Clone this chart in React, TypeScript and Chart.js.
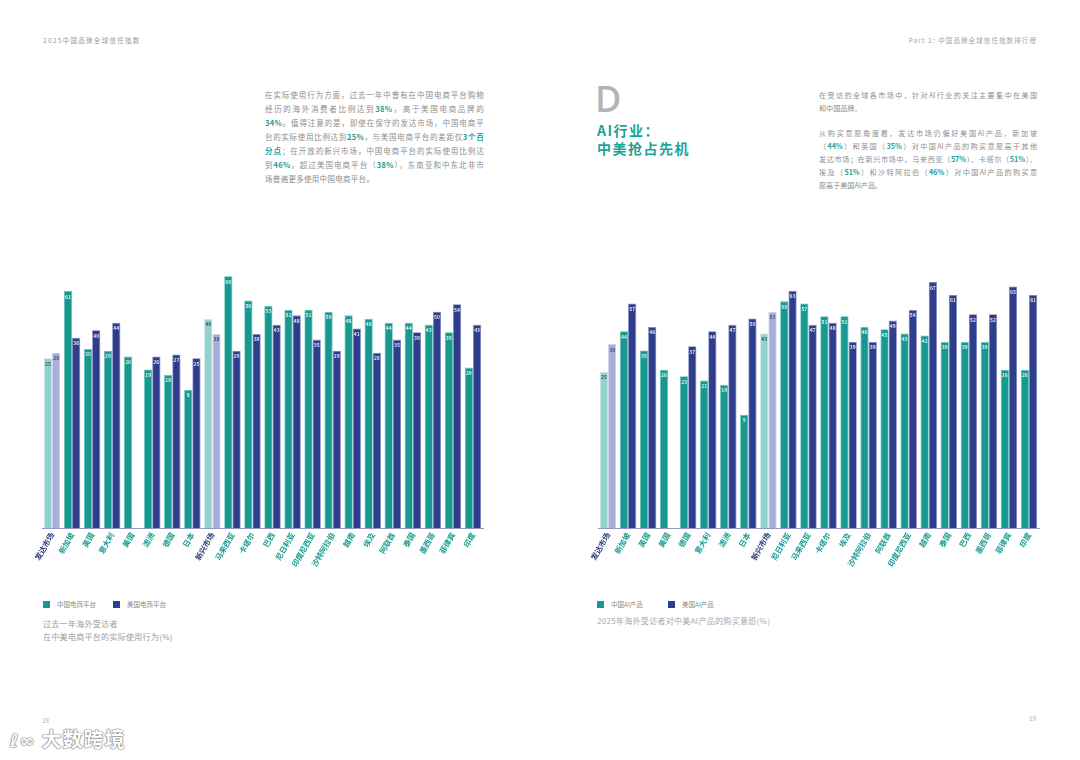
import React, { useEffect, useRef } from "react";
import { Chart, registerables } from "chart.js";

Chart.register(...registerables);

// ---------- data ----------
const LEFT_CATEGORIES = ["发达市场", "新加坡", "英国", "意大利", "美国", "澳洲", "德国", "日本", "新兴市场", "马来西亚", "卡塔尔", "巴西", "尼日利亚", "印度尼西亚", "沙特阿拉伯", "越南", "埃及", "阿联酋", "泰国", "墨西哥", "菲律宾", "印度"];
const LEFT_CN = [25, 61, 30, 29, 26, 19, 16, 8, 46, 69, 56, 53, 51, 51, 50, 48, 46, 44, 44, 43, 39, 20];
const LEFT_US = [28, 36, 40, 44, null, 26, 27, 25, 38, 29, 38, 43, 48, 35, 29, 41, 28, 35, 39, 50, 54, 43];

const RIGHT_CATEGORIES = ["发达市场", "新加坡", "英国", "美国", "德国", "意大利", "澳洲", "日本", "新兴市场", "尼日利亚", "马来西亚", "卡塔尔", "埃及", "沙特阿拉伯", "阿联酋", "印度尼西亚", "越南", "泰国", "巴西", "墨西哥", "菲律宾", "印度"];
const RIGHT_CN = [25, 44, 35, 26, 23, 21, 19, 5, 43, 58, 57, 51, 51, 46, 45, 43, 42, 39, 39, 39, 26, 26];
const RIGHT_US = [38, 57, 46, null, 37, 44, 47, 50, 53, 63, 47, 48, 39, 39, 49, 54, 67, 61, 52, 52, 65, 61];

const MARKET_GROUP_INDEX = [0, 8];

const LEFT_Y_MIN = -66;
const LEFT_Y_MAX = 75;
const RIGHT_Y_MIN = -48;
const RIGHT_Y_MAX = 75;

// ---------- styles ----------
const FONT = "'Noto Sans CJK SC', 'Noto Sans', sans-serif";
const TEAL = "#17998f";
const NAVY = "#2e3d8c";
const LIGHT_TEAL = "#92d2cc";
const LIGHT_NAVY = "#a6aed9";
const TEAL_BORDER = "#62c2b9";
const NAVY_BORDER = "#7a84c2";
const GRAY_TEXT = "#8d8d8d";
const HL = "#1d9e95";

const valueLabels = {
  id: "valueLabels",
  afterDatasetsDraw(chart: any) {
    const ctx = chart.ctx;
    ctx.save();
    ctx.font = `bold 5px ${FONT}`;
    ctx.textAlign = "center";
    ctx.textBaseline = "top";
    chart.data.datasets.forEach((ds: any, di: number) => {
      const meta = chart.getDatasetMeta(di);
      meta.data.forEach((el: any, i: number) => {
        const v = ds.data[i];
        if (v == null) return;
        const light = MARKET_GROUP_INDEX.includes(i);
        ctx.fillStyle = light ? "#4b5070" : "rgba(255,255,255,0.85)";
        ctx.fillText(String(v), el.x, el.y + 3);
      });
    });
    ctx.restore();
  },
};

type BarProps = {
  categories: string[];
  cn: (number | null)[];
  us: (number | null)[];
  yMin: number;
  yMax: number;
  cnLabel: string;
  usLabel: string;
  left: number;
  top: number;
};

const CW = 475;
const CH = 325;

function BarChart({ categories, cn, us, yMin, yMax, cnLabel, usLabel, left, top }: BarProps) {
  const ref = useRef<HTMLCanvasElement>(null);
  useEffect(() => {
    if (!ref.current) return;
    const chart = new Chart(ref.current, {
      type: "bar",
      data: {
        labels: categories,
        datasets: [
          {
            label: cnLabel,
            data: cn as any,
            base: yMin,
            backgroundColor: (c: any) => (MARKET_GROUP_INDEX.includes(c.dataIndex) ? LIGHT_TEAL : TEAL),
            borderColor: (c: any) => (MARKET_GROUP_INDEX.includes(c.dataIndex) ? "#c3e6e2" : TEAL_BORDER),
            borderWidth: 0.8,
            categoryPercentage: 0.82,
            barPercentage: 1,
          } as any,
          {
            label: usLabel,
            data: us as any,
            base: yMin,
            backgroundColor: (c: any) => (MARKET_GROUP_INDEX.includes(c.dataIndex) ? LIGHT_NAVY : NAVY),
            borderColor: (c: any) => (MARKET_GROUP_INDEX.includes(c.dataIndex) ? "#cdd2ec" : NAVY_BORDER),
            borderWidth: 0.8,
            categoryPercentage: 0.82,
            barPercentage: 1,
          } as any,
        ],
      },
      options: {
        animation: false,
        responsive: false,
        maintainAspectRatio: false,
        layout: { padding: { left: 24, right: 10, top: 0, bottom: 0 } },
        plugins: { legend: { display: false }, tooltip: { enabled: false } },
        scales: {
          x: {
            offset: true,
            grid: { display: false, drawTicks: false },
            border: { display: true, color: "#9499c4", width: 1 },
            ticks: {
              autoSkip: false,
              minRotation: 60,
              maxRotation: 60,
              padding: 3,
              color: (c: any) => (MARKET_GROUP_INDEX.includes(c.index) ? "#2b3a78" : "#1a9a91"),
              font: { family: FONT, size: 7.6, weight: "bold" },
            },
            afterFit: (s: any) => {
              s.height = 62;
            },
          } as any,
          y: { display: false, min: yMin, max: yMax },
        },
      },
      plugins: [valueLabels],
    } as any);
    return () => chart.destroy();
  }, []);
  return (
    <canvas
      ref={ref}
      width={CW}
      height={CH}
      style={{ position: "absolute", left, top, width: CW, height: CH }}
    />
  );
}

const H = ({ children }: { children: any }) => (
  <span style={{ color: HL, fontWeight: 700 }}>{children}</span>
);

function JLine({ children, last }: { children: any; last?: boolean }) {
  return (
    <div style={{ textAlign: "justify", textAlignLast: last ? "left" : "justify", whiteSpace: "normal" }}>
      {children}
    </div>
  );
}

function Legend({ left, top, items }: { left: number; top: number; items: { label: string; color: string; dx: number }[] }) {
  return (
    <>
      {items.map((it) => (
        <div key={it.label} style={{ position: "absolute", left: left + it.dx, top, display: "flex", alignItems: "center" }}>
          <div style={{ width: 7, height: 7, background: it.color, marginRight: 7 }} />
          <span style={{ fontSize: 6.5, color: "#8a8a8a", fontFamily: FONT, lineHeight: "7px" }}>{it.label}</span>
        </div>
      ))}
    </>
  );
}

export default function App() {
  const paraStyle: React.CSSProperties = {
    position: "absolute",
    fontFamily: FONT,
    fontSize: 7.5,
    color: GRAY_TEXT,
    letterSpacing: 0.3,
  };
  const rightPara: React.CSSProperties = {
    ...paraStyle,
    fontSize: 7.1,
    letterSpacing: 0,
  };
  return (
    <div
      style={{
        position: "absolute",
        left: 0,
        top: 0,
        width: 1080,
        height: 760,
        overflow: "hidden",
        background: "#ffffff",
        fontFamily: FONT,
      }}
    >
      {/* headers */}
      <div style={{ position: "absolute", left: 43, top: 36, fontSize: 6.5, letterSpacing: 1.3, color: "#9a9a9a", lineHeight: "8px" }}>
        2025中国品牌全球信任指数
      </div>
      <div style={{ position: "absolute", right: 43, top: 36, fontSize: 6.5, letterSpacing: 1.1, color: "#a5a5a5", lineHeight: "8px" }}>
        Part 2: 中国品牌全球信任指数排行榜
      </div>

      {/* left paragraph */}
      <div style={{ ...paraStyle, left: 265, top: 88, width: 219, lineHeight: "14px" }}>
        <JLine>在实际使用行为方面，过去一年中曾有在中国电商平台购物</JLine>
        <JLine>经历的海外消费者比例达到<H>38%</H>，高于美国电商品牌的</JLine>
        <JLine><H>34%</H>。值得注意的是，即使在保守的发达市场，中国电商平</JLine>
        <JLine>台的实际使用比例达到<H>25%</H>，与美国电商平台的差距仅<H>3个百</H></JLine>
        <JLine><H>分点</H>；在开放的新兴市场，中国电商平台的实际使用比例达</JLine>
        <JLine>到<H>46%</H>，超过美国电商平台（<H>38%</H>），东南亚和中东北非市</JLine>
        <JLine last>场普遍更多使用中国电商平台。</JLine>
      </div>

      {/* right heading */}
      <div style={{ position: "absolute", left: 595, top: 79, fontSize: 36, fontWeight: 600, color: "#b4b4b4", fontFamily: "'Open Sans', sans-serif", lineHeight: "40px" }}>
        D
      </div>
      <div style={{ position: "absolute", left: 597, top: 121, fontSize: 14, fontWeight: 700, color: "#1ca398", letterSpacing: 1.5, lineHeight: "18px" }}>
        AI行业：
        <br />
        中美抢占先机
      </div>

      {/* right paragraph */}
      <div style={{ ...rightPara, left: 819, top: 88.5, width: 218, lineHeight: "13px" }}>
        <JLine>在受访的全球各市场中，针对AI行业的关注主要集中在美国</JLine>
        <JLine last>和中国品牌。</JLine>
      </div>
      <div style={{ ...rightPara, left: 819, top: 126.5, width: 218, lineHeight: "13px" }}>
        <JLine>从购买意愿角度看，发达市场仍偏好美国AI产品，新加坡</JLine>
        <JLine>（<H>44%</H>）和英国（<H>35%</H>）对中国AI产品的购买意愿高于其他</JLine>
        <JLine>发达市场；在新兴市场中，马来西亚（<H>57%</H>）、卡塔尔（<H>51%</H>）、</JLine>
        <JLine>埃及（<H>51%</H>）和沙特阿拉伯（<H>46%</H>）对中国AI产品的购买意</JLine>
        <JLine last>愿高于美国AI产品。</JLine>
      </div>

      {/* charts */}
      <BarChart
        categories={LEFT_CATEGORIES}
        cn={LEFT_CN}
        us={LEFT_US}
        yMin={LEFT_Y_MIN}
        yMax={LEFT_Y_MAX}
        cnLabel="中国电商平台"
        usLabel="美国电商平台"
        left={18}
        top={265}
      />
      <BarChart
        categories={RIGHT_CATEGORIES}
        cn={RIGHT_CN}
        us={RIGHT_US}
        yMin={RIGHT_Y_MIN}
        yMax={RIGHT_Y_MAX}
        cnLabel="中国AI产品"
        usLabel="美国AI产品"
        left={574}
        top={265}
      />

      {/* legends */}
      <Legend
        left={43}
        top={601}
        items={[
          { label: "中国电商平台", color: TEAL, dx: 0 },
          { label: "美国电商平台", color: NAVY, dx: 70 },
        ]}
      />
      <Legend
        left={597}
        top={601}
        items={[
          { label: "中国AI产品", color: TEAL, dx: 0 },
          { label: "美国AI产品", color: NAVY, dx: 71 },
        ]}
      />

      {/* captions */}
      <div style={{ position: "absolute", left: 43, top: 617, fontSize: 8, color: "#9c9c9c", lineHeight: "13px", letterSpacing: 0.3 }}>
        过去一年海外受访者
        <br />
        在中美电商平台的实际使用行为(%)
      </div>
      <div style={{ position: "absolute", left: 597, top: 614, fontSize: 8, color: "#a8a8a8", lineHeight: "13px", letterSpacing: 0.3 }}>
        2025年海外受访者对中美AI产品的购买意愿(%)
      </div>

      {/* page numbers */}
      <div style={{ position: "absolute", left: 42, top: 715, fontSize: 6.5, color: "#b5b5b5" }}>18</div>
      <div style={{ position: "absolute", left: 1029, top: 713, fontSize: 6.5, color: "#b5b5b5" }}>19</div>

      {/* watermark */}
      <div
        style={{
          position: "absolute",
          left: 10,
          top: 726,
          fontSize: 20,
          fontWeight: 700,
          color: "#ffffff",
          textShadow: "0 0 1px #666, 0 0 1px #666, 0 0 2px #999",
          lineHeight: "26px",
          letterSpacing: 1,
        }}
      >
        <span style={{ fontSize: 18, fontFamily: "'DejaVu Sans', sans-serif", marginRight: 6 }}>ℓ∞</span>大数跨境
      </div>
    </div>
  );
}
